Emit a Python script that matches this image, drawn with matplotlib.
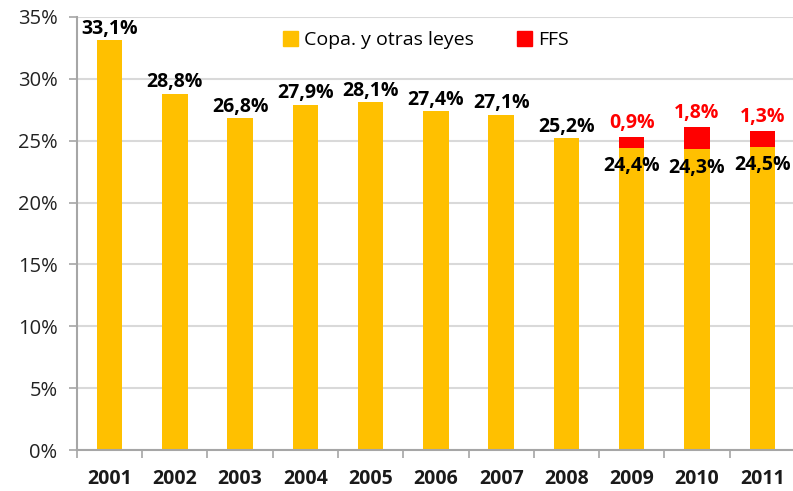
import numpy as np
import matplotlib.pyplot as plt
from matplotlib.patches import Patch

# Datos por año (% )
anios = ["2001", "2002", "2003", "2004", "2005", "2006", "2007", "2008", "2009", "2010", "2011"]
copa = [33.1, 28.8, 26.8, 27.9, 28.1, 27.4, 27.1, 25.2, 24.4, 24.3, 24.5]
ffs = [0, 0, 0, 0, 0, 0, 0, 0, 0.9, 1.8, 1.3]

amarillo = "#FFC000"
rojo = "#FF0000"

plt.rcParams['font.family'] = ['Open Sans', 'DejaVu Sans']

fig = plt.figure(figsize=(7.93, 4.91), dpi=100)
ax = fig.add_axes([0.097, 0.0835, 0.903, 0.882])

x = np.arange(len(anios))
ancho = 0.39
ax.bar(x, copa, ancho, color=amarillo, zorder=2)
ax.bar(x, ffs, ancho, bottom=copa, color=rojo, zorder=2)

def fmt(v):
    return f"{v:.1f}%".replace(".", ",")

fs_et = 14
for i in range(len(anios)):
    if ffs[i] > 0:
        ax.annotate(fmt(copa[i]), (x[i], copa[i]), xytext=(0, -6), textcoords="offset points",
                    ha="center", va="top", fontsize=fs_et, fontweight="bold", color="black")
        ax.annotate(fmt(ffs[i]), (x[i], copa[i] + ffs[i]), xytext=(0, 3), textcoords="offset points",
                    ha="center", va="bottom", fontsize=fs_et, fontweight="bold", color=rojo)
    else:
        ax.annotate(fmt(copa[i]), (x[i], copa[i]), xytext=(0, 1), textcoords="offset points",
                    ha="center", va="bottom", fontsize=fs_et, fontweight="bold", color="black")

ax.set_ylim(0, 35)
ax.set_xlim(-0.5, 10.47)
ax.set_yticks(np.arange(0, 36, 5))
ax.set_yticklabels([f"{v}%" for v in range(0, 36, 5)], fontsize=14.5, color="#222222")
ax.yaxis.grid(True, color="#d9d9d9", linewidth=1.5, zorder=0)
ax.set_axisbelow(True)

# ticks de categoría en los bordes, etiquetas centradas
ax.set_xticks(np.arange(-0.5, 10.5, 1))
ax.set_xticklabels([])
ax.set_xticks(x, minor=True)
ax.set_xticklabels(anios, minor=True, fontsize=14, fontweight="bold", color="#1a1a1a")
ax.tick_params(axis="x", which="minor", length=0, pad=14)
ax.tick_params(axis="x", which="major", length=6, width=1.2, color="#a6a6a6", direction="out")
ax.tick_params(axis="y", length=6, width=1.2, color="#a6a6a6", pad=8)

for lado in ["top", "right"]:
    ax.spines[lado].set_visible(False)
for lado in ["left", "bottom"]:
    ax.spines[lado].set_color("#a6a6a6")
    ax.spines[lado].set_linewidth(1.5)

handles = [Patch(color=amarillo, label="Copa. y otras leyes"), Patch(color=rojo, label="FFS")]
ax.legend(handles=handles, loc="center", bbox_to_anchor=(0.487, 0.947), ncol=2, frameon=False,
          fontsize=14, handlelength=0.8, handleheight=0.8, handletextpad=0.3, columnspacing=2.2)

fig.savefig("out.png", dpi=100)
